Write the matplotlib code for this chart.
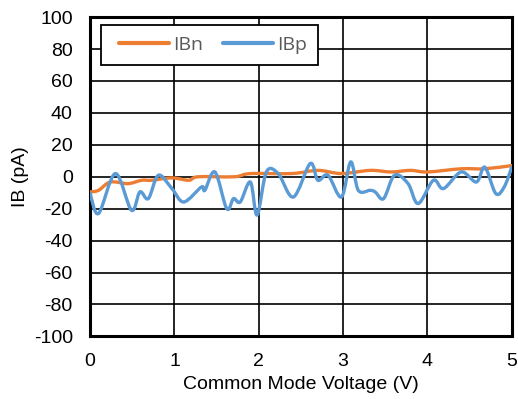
import matplotlib
matplotlib.use('Agg')
import matplotlib.pyplot as plt
from matplotlib.path import Path
from matplotlib.patches import PathPatch, Rectangle
from matplotlib.lines import Line2D

# data
ibn_x = [0, 0.10, 0.24, 0.45, 0.61, 0.73, 0.97, 1.17, 1.28, 1.71, 1.90, 2.39,
         2.70, 2.98, 3.32, 3.57, 3.80, 4.0, 4.40, 4.68, 5.0]
ibn_y = [-9.5, -8.5, -3.3, -4.3, -2.2, -2.2, -0.7, -2.2, 0, 0, 2, 2,
         4, 2, 4, 3, 4, 3, 5, 5, 7]

ibp_x = [0, 0.10, 0.30, 0.49, 0.59, 0.69, 0.81, 0.97, 1.11, 1.32, 1.36, 1.48,
         1.62, 1.70, 1.78, 1.90, 1.98, 2.09, 2.23, 2.41, 2.61, 2.70, 2.82, 2.98,
         3.09, 3.18, 3.32, 3.38, 3.48, 3.61, 3.77, 3.89, 4.07, 4.19, 4.40, 4.58,
         4.68, 4.81, 4.91, 5.0]
ibp_y = [-10.5, -23, 2, -21, -9.5, -13.7, 1, -7.4, -15.8, -6.4, -8.5, 3,
         -20, -13.7, -15.8, -3.3, -24, 3, 2, -12.7, 8.3, -2.2, 1, -12.7,
         9.3, -8.5, -8.5, -9.5, -13.7, 1, -4.3, -16.8, -2.2, -7.4, 3, -3.3,
         6, -10.5, -6.4, 6]

x_ticks = [0, 1, 2, 3, 4, 5]
y_ticks = list(range(-100, 101, 20))

orange = '#ED7D31'
blue = '#5B9BD5'


def smooth_path(xs, ys, t=1/6):
    # bezier through the points, like excel's smoothed line
    verts = [(xs[0], ys[0])]
    codes = [Path.MOVETO]
    n = len(xs)
    for i in range(n - 1):
        x0, y0 = (xs[i-1], ys[i-1]) if i > 0 else (xs[i], ys[i])
        x3, y3 = (xs[i+2], ys[i+2]) if i + 2 < n else (xs[i+1], ys[i+1])
        c1 = (xs[i] + (xs[i+1] - x0) * t, ys[i] + (ys[i+1] - y0) * t)
        c2 = (xs[i+1] - (x3 - xs[i]) * t, ys[i+1] - (y3 - ys[i]) * t)
        verts += [c1, c2, (xs[i+1], ys[i+1])]
        codes += [Path.CURVE4] * 3
    return Path(verts, codes)


plt.rcParams['font.family'] = ['Liberation Sans', 'DejaVu Sans']
plt.rcParams['axes.unicode_minus'] = False

fig = plt.figure(figsize=(5.18, 3.99), dpi=100)
ax = fig.add_axes([0.174, 0.157, 0.814, 0.8])

ax.add_patch(PathPatch(smooth_path(ibn_x, ibn_y), fill=False, edgecolor=orange,
                       lw=2.4, capstyle='round', joinstyle='round', zorder=3))
ax.add_patch(PathPatch(smooth_path(ibp_x, ibp_y), fill=False, edgecolor=blue,
                       lw=2.4, capstyle='round', joinstyle='round', zorder=4))

ax.set_xlim(0, 5)
ax.set_ylim(-100, 100)
ax.set_xticks(x_ticks)
ax.set_yticks(y_ticks)
ax.tick_params(length=0, labelsize=14, colors='black')
ax.tick_params(axis='x', pad=12)
ax.tick_params(axis='y', pad=12.5)
ax.grid(True, color='black', lw=1.2)
for s in ax.spines.values():
    s.set_linewidth(2.2)
    s.set_color('black')
ax.set_axisbelow(True)

ax.set_xlabel('Common Mode Voltage (V)', fontsize=14, labelpad=4)
ax.set_ylabel('IB (pA)', fontsize=14, labelpad=3)

# legend box drawn by hand so the padding matches
ax.add_patch(Rectangle((0.026, 0.85), 0.514, 0.125, transform=ax.transAxes,
                       facecolor='white', edgecolor='black', lw=1.3, zorder=5))
handles = [Line2D([], [], color=orange, lw=3, solid_capstyle='round'),
           Line2D([], [], color=blue, lw=3, solid_capstyle='round')]
leg = ax.legend(handles, ['IBn', 'IBp'], ncol=2, loc='center',
                bbox_to_anchor=(0.292, 0.9125), borderaxespad=0, frameon=False,
                handlelength=2.55, handletextpad=0.25, columnspacing=1.0,
                borderpad=0, prop={'family': 'Open Sans', 'size': 14})
leg.set_zorder(6)
for t in leg.get_texts():
    t.set_color('#595959')

fig.savefig('out.png', dpi=100)
